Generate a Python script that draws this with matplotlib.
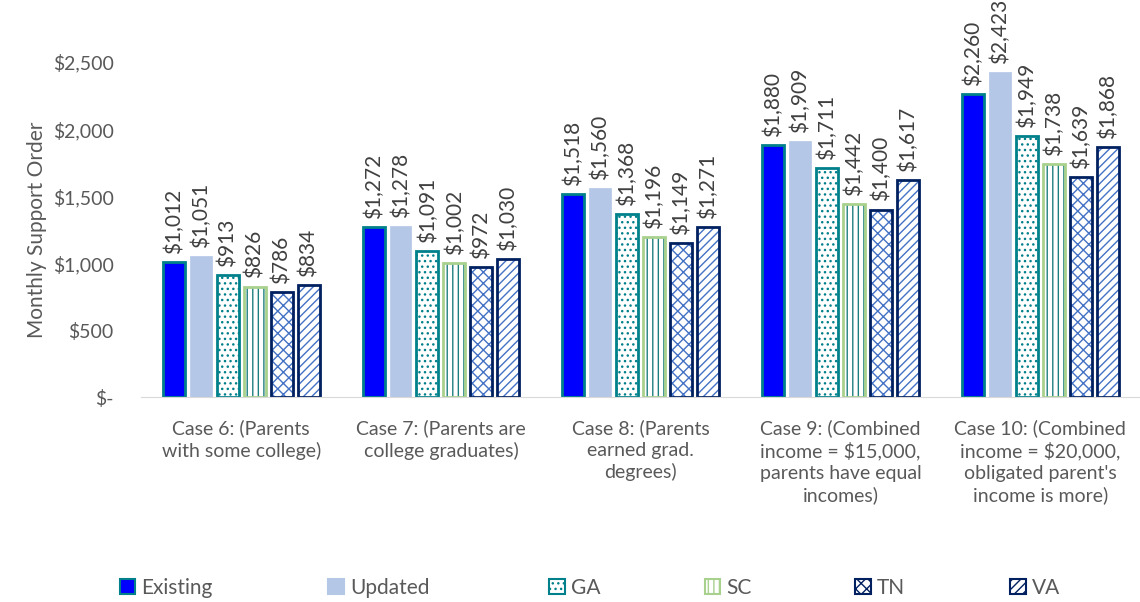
import matplotlib
matplotlib.use("Agg")
import matplotlib.pyplot as plt
import numpy as np
from matplotlib.patches import Patch

plt.rcParams['font.family'] = ['Lato', 'DejaVu Sans']
plt.rcParams['hatch.linewidth'] = 1.0

cases = ["Case 6: (Parents\nwith some college)",
         "Case 7: (Parents are\ncollege graduates)",
         "Case 8: (Parents\nearned grad.\ndegrees)",
         "Case 9: (Combined\nincome = $15,000,\nparents have equal\nincomes)",
         "Case 10: (Combined\nincome = $20,000,\nobligated parent's\nincome is more)"]
series = ["Existing", "Updated", "GA", "SC", "TN", "VA"]
existing = [1012, 1272, 1518, 1880, 2260]
updated = [1051, 1278, 1560, 1909, 2423]
ga = [913, 1091, 1368, 1711, 1949]
sc = [826, 1002, 1196, 1442, 1738]
tn = [786, 972, 1149, 1400, 1639]
va = [834, 1030, 1271, 1617, 1868]
values = [existing, updated, ga, sc, tn, va]

# fill, hatch, hatch colour, edge colour
styles = [
    ("#0000FF", None, None, "#00808A"),
    ("#B4C7E7", None, None, "#B4C7E7"),
    ("white", "...", "#00808A", "#00808A"),
    ("white", "|||", "#1F7F7F", "#A9D18E"),
    ("white", "xxx", "#4472C4", "#002060"),
    ("white", "////", "#4472C4", "#002060"),
]

gray = "#595959"
fig = plt.figure(figsize=(11.4, 6.02), dpi=100)
ax = fig.add_axes([0.124, 0.34, 0.876, 0.557])

x = np.arange(len(cases))
slot = 0.135
bw = 0.11
for i, (vals, (fc, hatch, hc, ec)) in enumerate(zip(values, styles)):
    pos = x + (i - 2.5) * slot
    if hatch:
        ax.bar(pos, vals, bw, color=fc, hatch=hatch, edgecolor=hc, linewidth=0)
        ax.bar(pos, vals, bw, fill=False, edgecolor=ec, linewidth=2)
    else:
        ax.bar(pos, vals, bw, color=fc, edgecolor=ec, linewidth=2 if i == 0 else 0.5)
    for p, v in zip(pos, vals):
        ax.text(p, v + 60, f"${v:,}", rotation=90, ha="center", va="bottom",
                fontsize=15, color="#404040", clip_on=False)

ax.set_xlim(-0.5, len(cases) - 0.5)
ax.set_ylim(0, 2500)
ax.set_yticks([0, 500, 1000, 1500, 2000, 2500])
ax.set_yticklabels(["$-", "$500", "$1,000", "$1,500", "$2,000", "$2,500"])
ax.set_xticks(x)
ax.set_xticklabels(cases, linespacing=1.3)
ax.tick_params(axis="both", length=0, colors=gray, labelsize=14)
ax.tick_params(axis="y", pad=20)
ax.tick_params(axis="x", pad=16)
for s in ["top", "right", "left"]:
    ax.spines[s].set_visible(False)
ax.spines["bottom"].set_color("#D9D9D9")
ax.set_ylabel("Monthly Support Order", fontsize=15, color=gray, labelpad=4)

# legend entries placed one by one, like the uneven spacing in the original
legend_x = [0.105, 0.288, 0.482, 0.618, 0.75, 0.886]
for name, (fc, hatch, hc, ec), lx in zip(series, styles, legend_x):
    if hatch:
        h = Patch(facecolor=fc, hatch=hatch, edgecolor=ec, linewidth=1.5, label=name)
    else:
        h = Patch(facecolor=fc, edgecolor=ec, linewidth=1.5, label=name)
    fig.legend(handles=[h], loc="center left", bbox_to_anchor=(lx, 0.024),
               frameon=False, fontsize=15, handlelength=0.75, handleheight=0.75,
               handletextpad=0.3, labelcolor=gray, borderpad=0, borderaxespad=0)

fig.savefig("out.png", dpi=100)
